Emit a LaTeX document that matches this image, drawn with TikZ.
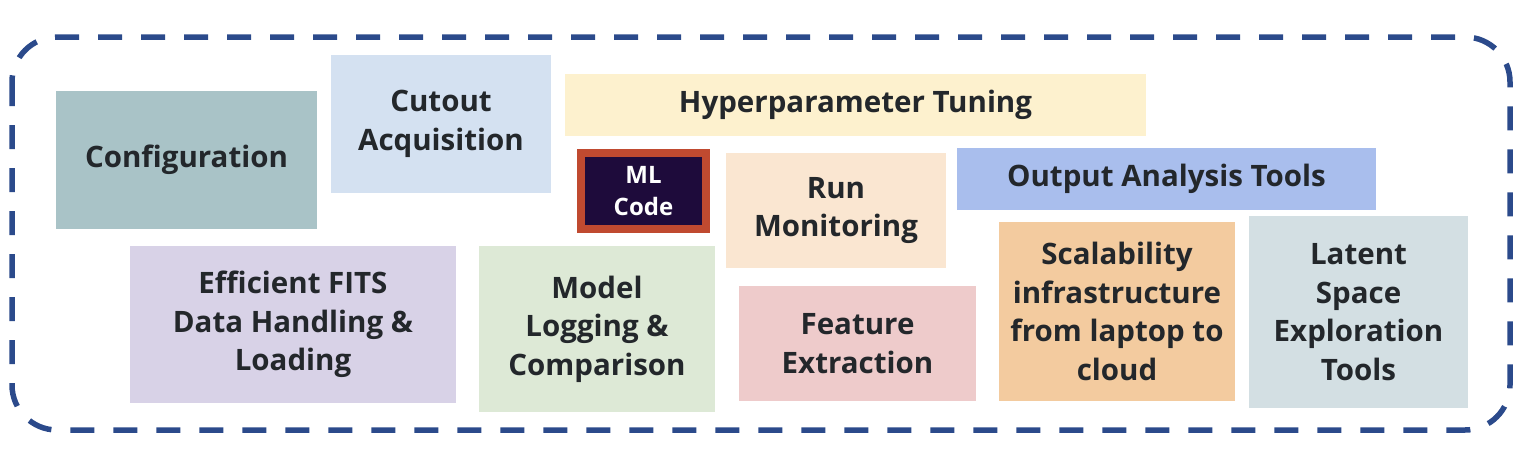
\documentclass[tikz,border=0pt]{standalone}
\usepackage{fontspec}
\setmainfont{Open Sans}

\definecolor{framecol}{HTML}{2B4A8B}
\definecolor{textcol}{HTML}{23272B}
\definecolor{configcol}{HTML}{A9C3C7}
\definecolor{cutoutcol}{HTML}{D4E1F1}
\definecolor{hypercol}{HTML}{FDF1CE}
\definecolor{mlfill}{HTML}{1E0B3B}
\definecolor{mlborder}{HTML}{C04A30}
\definecolor{runcol}{HTML}{FAE6D1}
\definecolor{fitscol}{HTML}{D8D2E7}
\definecolor{logcol}{HTML}{DDE9D6}
\definecolor{featcol}{HTML}{EECBCB}
\definecolor{outcol}{HTML}{A9BEED}
\definecolor{scalcol}{HTML}{F3CB9F}
\definecolor{latentcol}{HTML}{D3DFE3}

\tikzset{
  block/.style={rectangle, inner sep=0pt, align=center, text=textcol,
    font=\bfseries\fontsize{29.5}{38.5}\selectfont},
}

\begin{document}
\begin{tikzpicture}[x=1pt, y=-1pt]
    \useasboundingbox (0,0) rectangle (1534,458);

    \draw [framecol, line width=5.5pt, dash pattern=on 24pt off 19pt, rounded corners=45pt] (12,37) rectangle (1510,430);

    \node [block, fill=configcol, minimum width=261pt, minimum height=138pt] (config) at (186.5,160) {Configuration};
    \node [block, fill=cutoutcol, minimum width=220pt, minimum height=138pt] (cutout) at (441,124) {Cutout\\Acquisition};
    \node [block, fill=hypercol, minimum width=581pt, minimum height=62pt] (hyper) at (855.5,105) {Hyperparameter Tuning};

    \node [block, fill=mlfill, draw=mlborder, line width=8pt, text=white, minimum width=125pt, minimum height=76pt,
      font=\bfseries\fontsize{24}{32}\selectfont] (mlcode) at (643.5,191) {ML\\Code};

    \node [block, fill=runcol, minimum width=220pt, minimum height=115pt] (runmon) at (836,210.5) {Run\\Monitoring};
    \node [block, fill=outcol, minimum width=419pt, minimum height=62pt] (output) at (1166.5,179) {Output Analysis Tools};

    \node [block, fill=fitscol, minimum width=326pt, minimum height=157pt] (fits) at (293,324.5) {Efficient FITS\\Data Handling \&\\Loading};
    \node [block, fill=logcol, minimum width=236pt, minimum height=166pt] (modellog) at (597,329) {Model\\Logging \&\\Comparison};
    \node [block, fill=featcol, minimum width=237pt, minimum height=115pt] (feature) at (857.5,343.5) {Feature\\Extraction};
    \node [block, fill=scalcol, minimum width=236pt, minimum height=179pt] (scal) at (1117,311.5) {Scalability\\infrastructure\\from laptop to\\cloud};
    \node [block, fill=latentcol, minimum width=219pt, minimum height=192pt] (latent) at (1358.5,312) {Latent\\Space\\Exploration\\Tools};
\end{tikzpicture}
\end{document}
